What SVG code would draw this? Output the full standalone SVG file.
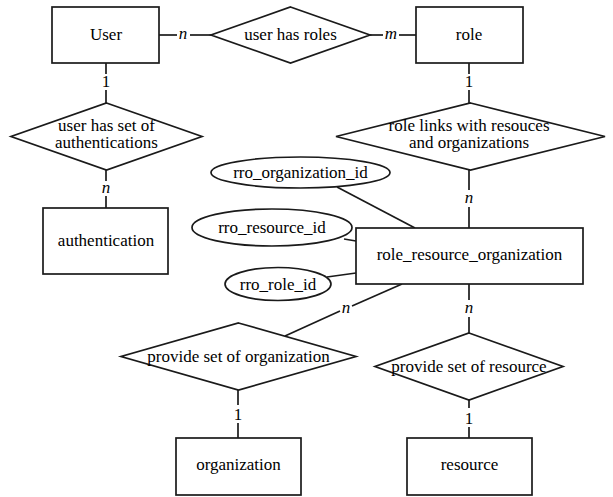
<svg xmlns="http://www.w3.org/2000/svg" width="613" height="497" viewBox="0 0 613 497">
  <style>
    .shape { fill: #ffffff; stroke: #1a1a1a; stroke-width: 1.7; }
    .link { fill: none; stroke: #1a1a1a; stroke-width: 1.7; }
    text { font-family: 'Liberation Serif', 'Times New Roman', Tinos, 'DejaVu Serif', serif; font-size: 17px; fill: #000000; text-anchor: middle; }
    .card { font-style: italic; }
    .one { font-style: normal; }
  </style>
  <rect width="613" height="497" fill="#ffffff"/>

  <!-- connectors, broken where a cardinality label sits -->
  <g id="connectors">
    <!-- User - user has roles - role -->
    <line class="link" x1="159" y1="35" x2="177" y2="35"/>
    <line class="link" x1="190" y1="35" x2="211" y2="35"/>
    <line class="link" x1="370" y1="35" x2="383" y2="35"/>
    <line class="link" x1="399" y1="35" x2="416" y2="35"/>
    <!-- User - user has set of authentications - authentication -->
    <line class="link" x1="106" y1="63" x2="106" y2="74"/>
    <line class="link" x1="106" y1="90" x2="106" y2="103"/>
    <line class="link" x1="106" y1="170" x2="106" y2="181"/>
    <line class="link" x1="106" y1="196" x2="106" y2="208"/>
    <!-- role - role links - role_resource_organization -->
    <line class="link" x1="469" y1="63" x2="469" y2="74"/>
    <line class="link" x1="469" y1="90" x2="469" y2="103"/>
    <line class="link" x1="469" y1="170" x2="469" y2="190"/>
    <line class="link" x1="469" y1="207" x2="469" y2="228"/>
    <!-- role_resource_organization - provide set of resource - resource -->
    <line class="link" x1="469" y1="284" x2="469" y2="300"/>
    <line class="link" x1="469" y1="317" x2="469" y2="333"/>
    <line class="link" x1="469" y1="400" x2="469" y2="408"/>
    <line class="link" x1="469" y1="427" x2="469" y2="438"/>
    <!-- role_resource_organization - provide set of organization - organization -->
    <line class="link" x1="402" y1="284" x2="352" y2="306"/>
    <line class="link" x1="340" y1="311" x2="285" y2="336"/>
    <line class="link" x1="238" y1="390" x2="238" y2="405"/>
    <line class="link" x1="238" y1="423" x2="238" y2="438"/>
    <!-- attributes -->
    <line class="link" x1="337" y1="187" x2="415" y2="228"/>
    <line class="link" x1="344" y1="239" x2="356" y2="241"/>
    <line class="link" x1="327" y1="277" x2="356" y2="273"/>

    <!-- cardinalities -->
    <text class="card" x="183" y="39">n</text>
    <text class="card" x="391" y="39">m</text>
    <text class="one" x="106" y="87">1</text>
    <text class="card" x="106" y="193">n</text>
    <text class="one" x="469" y="87">1</text>
    <text class="card" x="469" y="203">n</text>
    <text class="card" x="469" y="313">n</text>
    <text class="one" x="469" y="424">1</text>
    <text class="card" x="346" y="313">n</text>
    <text class="one" x="238" y="420">1</text>
  </g>

  <!-- entities -->
  <g id="user">
    <rect class="shape" x="52" y="7" width="107" height="56"/>
    <text x="106" y="40">User</text>
  </g>
  <g id="role">
    <rect class="shape" x="416" y="7" width="107" height="56"/>
    <text x="469" y="40">role</text>
  </g>
  <g id="authentication">
    <rect class="shape" x="43" y="208" width="125" height="66"/>
    <text x="106" y="246">authentication</text>
  </g>
  <g id="role_resource_organization">
    <rect class="shape" x="356" y="228" width="227" height="56"/>
    <text x="469.5" y="260">role_resource_organization</text>
  </g>
  <g id="organization">
    <rect class="shape" x="176" y="438" width="125" height="57"/>
    <text x="238.5" y="470">organization</text>
  </g>
  <g id="resource">
    <rect class="shape" x="407" y="438" width="125" height="57"/>
    <text x="469.5" y="470">resource</text>
  </g>

  <!-- relationships -->
  <g id="user_has_roles">
    <polygon class="shape" points="290.5,7 370,35 290.5,63 211,35"/>
    <text x="290.5" y="40">user has roles</text>
  </g>
  <g id="user_has_set_of_authentications">
    <polygon class="shape" points="106.5,103 202,136.5 106.5,170 11,136.5"/>
    <text x="106.5" y="131">user has set of<tspan x="106.5" dy="17">authentications</tspan></text>
  </g>
  <g id="role_links">
    <polygon class="shape" points="470.5,103 605,136.5 470.5,170 336,136.5"/>
    <text x="469" y="131">role links with resouces<tspan x="469" dy="17">and organizations</tspan></text>
  </g>
  <g id="provide_set_of_organization">
    <polygon class="shape" points="238.5,323 356,356.5 238.5,390 121,356.5"/>
    <text x="238.5" y="362">provide set of organization</text>
  </g>
  <g id="provide_set_of_resource">
    <polygon class="shape" points="469,333 563,366.5 469,400 375,366.5"/>
    <text x="469" y="372">provide set of resource</text>
  </g>

  <!-- attributes -->
  <g id="rro_organization_id">
    <ellipse class="shape" cx="300.5" cy="172.5" rx="89.5" ry="15.5"/>
    <text x="300.5" y="178">rro_organization_id</text>
  </g>
  <g id="rro_resource_id">
    <ellipse class="shape" cx="272" cy="227.5" rx="80" ry="18.5"/>
    <text x="272" y="233">rro_resource_id</text>
  </g>
  <g id="rro_role_id">
    <ellipse class="shape" cx="278" cy="284" rx="53" ry="16.5"/>
    <text x="278" y="289.5">rro_role_id</text>
  </g>
</svg>
